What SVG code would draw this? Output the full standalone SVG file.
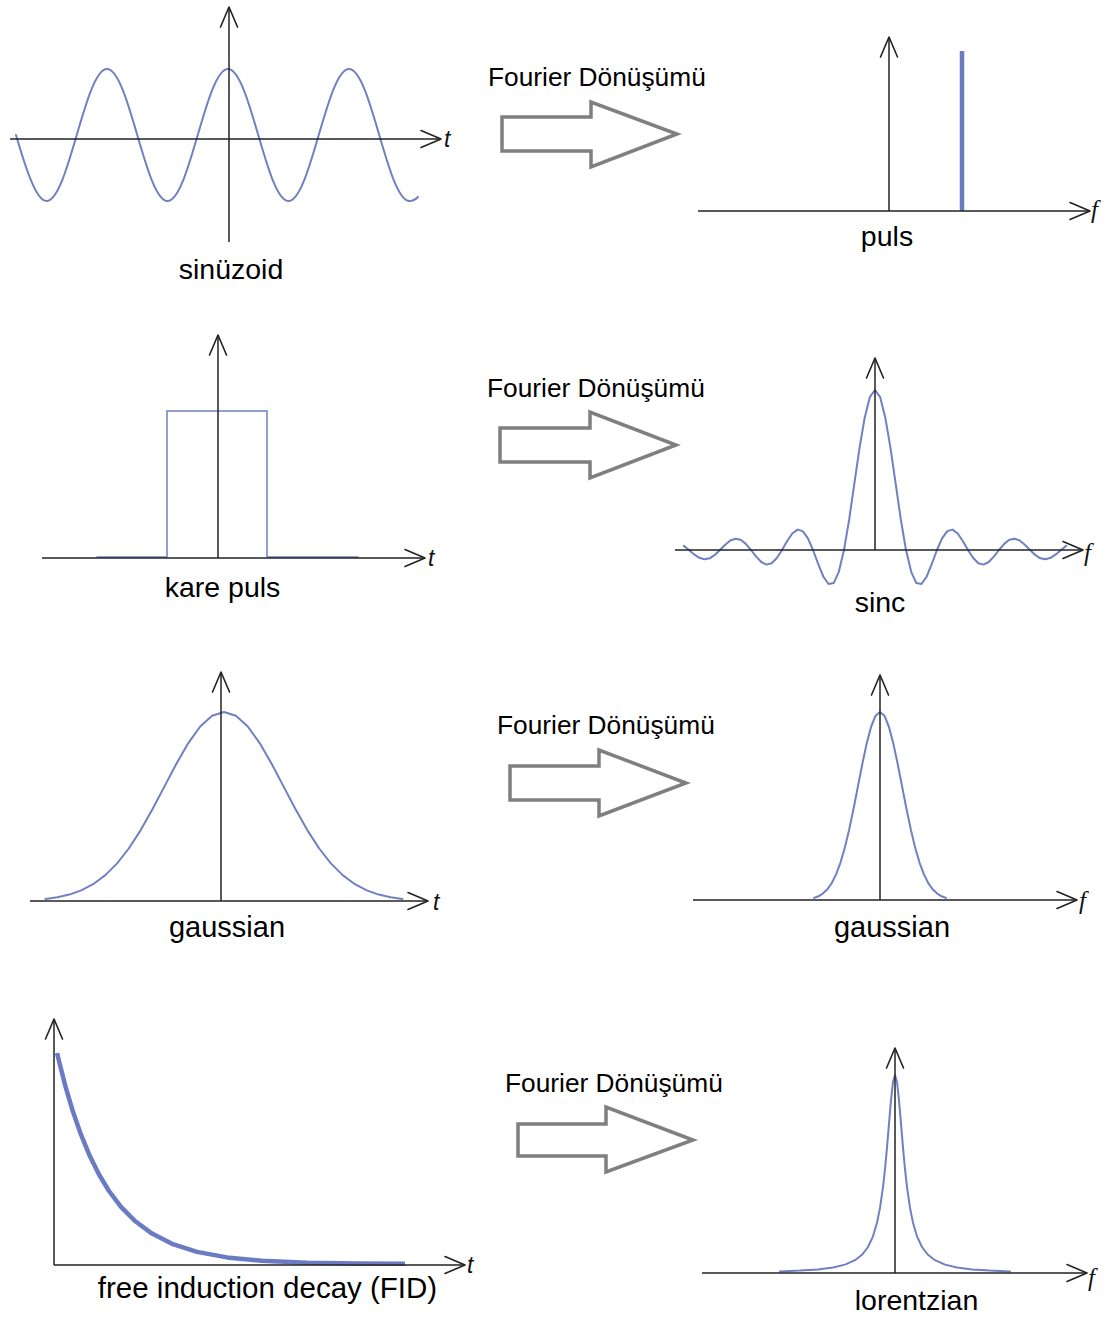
<svg xmlns="http://www.w3.org/2000/svg" width="1113" height="1317" viewBox="0 0 1113 1317">
<style>
  .ax{fill:none;stroke:#222;stroke-width:1.5;marker-end:url(#ah)}
  .cv{fill:none;stroke:#7080c0;stroke-width:2;stroke-linejoin:round;stroke-linecap:round}
  .lbl{font-family:"Liberation Sans",Arial,sans-serif;font-size:28.5px;fill:#000;text-anchor:middle}
  .ft{font-family:"Liberation Sans",Arial,sans-serif;font-size:26.3px;fill:#000}
  .t{font-family:"Liberation Sans",Arial,sans-serif;font-size:23px;font-style:italic;fill:#111}
  .f{font-family:"Liberation Serif","Times New Roman",serif;font-size:25px;font-style:italic;fill:#111}
  .blk{fill:#fff;stroke:#7f7f7f;stroke-width:3.5;stroke-linejoin:miter}
</style>
<defs>
  <marker id="ah" markerUnits="userSpaceOnUse" markerWidth="26" markerHeight="24" refX="21" refY="10" orient="auto" overflow="visible">
    <path d="M1,1.5 L21,10 L1,18.5" fill="none" stroke="#222" stroke-width="1.6" stroke-linejoin="round" stroke-linecap="round"/>
  </marker>
</defs>
<rect width="1113" height="1317" fill="#fff"/>

<g id="sinuzoid">
  <path class="cv" d="M16,135 C25.9,168.8 36.2,201 46.5,201 C68.5,201 85,69 107,69 C129,69 145.5,201 167.5,201 C189.5,201 206,69 228,69 C250,69 266.5,201 288.5,201 C310.5,201 327,69 349,69 C371,69 387.5,201 409.5,201 Q414,201 418,197"/>
  <line class="ax" x1="10" y1="139" x2="441" y2="139"/>
  <line class="ax" x1="229" y1="242" x2="229" y2="7"/>
  <text class="t" x="444" y="147">t</text>
  <text class="lbl" x="231" y="279">sinüzoid</text>
</g>

<g id="puls">
  <line x1="962" y1="51" x2="962" y2="211" stroke="#6a7cc0" stroke-width="4.5"/>
  <line class="ax" x1="698" y1="211" x2="1090" y2="211"/>
  <line class="ax" x1="889" y1="211" x2="889" y2="37"/>
  <text class="f" x="1091" y="218">f</text>
  <text class="lbl" x="887" y="246">puls</text>
</g>

<g id="kare-puls">
  <path class="cv" style="stroke-width:1.5" d="M97,557 L167,557 L167,411 L267,411 L267,557 L358,557"/>
  <line class="ax" x1="42" y1="558" x2="425" y2="558"/>
  <line class="ax" x1="218" y1="558" x2="218" y2="335"/>
  <text class="t" x="428" y="566">t</text>
  <text class="lbl" x="222.5" y="597">kare puls</text>
</g>

<g id="sinc">
  <polyline class="cv" points="683.8,545.9 689,550 694.2,554.4 699.3,557.8 704.5,559.3 709.7,558.3 714.8,554.9 720,550 725.2,544.7 730.3,540.5 735.5,538.7 740.7,539.8 745.8,543.9 751,550 756.2,556.6 761.3,562 766.5,564.6 771.7,563.2 776.8,558 782,550 787.2,541 792.3,533.5 797.5,529.6 802.7,531.1 807.8,538.2 813,550 818.2,563.9 823.3,576.5 828.5,584 833.7,583.1 838.8,571.8 844,550 849.2,519.4 854.3,483.8 859.5,448.1 864.7,417.7 869.8,397.2 875,390 880.2,397.2 885.3,417.7 890.5,448.1 895.7,483.8 900.8,519.4 906,550 911.2,571.8 916.3,583.1 921.5,584 926.7,576.5 931.8,563.9 937,550 942.2,538.2 947.3,531.1 952.5,529.6 957.7,533.5 962.8,541 968,550 973.2,558 978.3,563.2 983.5,564.6 988.7,562 993.8,556.6 999,550 1004.2,543.9 1009.3,539.8 1014.5,538.7 1019.7,540.5 1024.8,544.7 1030,550 1035.2,554.9 1040.3,558.3 1045.5,559.3 1050.7,557.8 1055.8,554.4 1061,550 1066.2,545.9"/>
  <line class="ax" x1="675" y1="550" x2="1083" y2="550"/>
  <line class="ax" x1="875" y1="550" x2="875" y2="358"/>
  <text class="f" x="1084" y="561">f</text>
  <text class="lbl" x="880" y="612">sinc</text>
</g>

<g id="gaussian-t">
  <polyline class="cv" points="45.5,898.9 57.4,897.3 69.3,894.6 81.2,890.4 93.1,884.2 105,875.4 116.9,863.6 128.8,848.5 140.7,830.1 152.6,809 164.5,786.4 176.4,763.8 188.3,743.1 200.2,726.5 212.1,715.7 224,712 235.9,715.7 247.8,726.5 259.7,743.1 271.6,763.8 283.5,786.4 295.4,809 307.3,830.1 319.2,848.5 331.1,863.6 343,875.4 354.9,884.2 366.8,890.4 378.7,894.6 390.6,897.3 402.5,898.9"/>
  <line class="ax" x1="30" y1="901" x2="428" y2="901"/>
  <line class="ax" x1="221" y1="901" x2="221" y2="672"/>
  <text class="t" x="433" y="910">t</text>
  <text class="lbl" x="227" y="937" style="font-size:29px">gaussian</text>
</g>

<g id="gaussian-f">
  <polyline class="cv" points="814,897.9 818.4,896.3 822.8,893.6 827.2,889.5 831.6,883.3 836,874.6 840.4,862.8 844.8,847.7 849.2,829.4 853.6,808.5 858,786 862.4,763.5 866.8,743 871.2,726.5 875.6,715.7 880,712 884.4,715.7 888.8,726.5 893.2,743 897.6,763.5 902,786 906.4,808.5 910.8,829.4 915.2,847.7 919.6,862.8 924,874.6 928.4,883.3 932.8,889.5 937.2,893.6 941.6,896.3 946,897.9"/>
  <line class="ax" x1="693" y1="900" x2="1077" y2="900"/>
  <line class="ax" x1="880" y1="900" x2="880" y2="675"/>
  <text class="f" x="1079" y="909">f</text>
  <text class="lbl" x="892" y="937" style="font-size:29px">gaussian</text>
</g>

<g id="fid">
  <polyline fill="none" stroke="#6a7bc4" stroke-width="4.5" stroke-linejoin="round" points="57,1053 65,1084.8 73,1111.8 81,1134.7 89,1154.2 99,1174.5 109,1191 121,1206.8 135,1221 152,1233.6 172,1243.8 197,1251.9 227,1257.4 262,1260.8 307,1262.7 357,1263.5 405,1263.8"/>
  <line class="ax" x1="54" y1="1265" x2="465" y2="1265"/>
  <line class="ax" x1="54" y1="1265" x2="54" y2="1019"/>
  <text class="t" x="467" y="1273">t</text>
  <text class="lbl" x="267.5" y="1298" style="font-size:29.5px">free induction decay (FID)</text>
</g>

<g id="lorentzian">
  <polyline class="cv" points="780,1271.4 800,1270.6 818,1269.4 833,1267.5 845,1264.6 855,1260.2 862,1254.8 868,1247 873,1236.3 877,1222.7 880,1207.9 883,1187.1 885,1169.2 887,1147.7 889,1123.7 891,1100.1 893,1081.9 895,1075 897,1081.9 899,1100.1 901,1123.7 903,1147.7 905,1169.2 907,1187.1 910,1207.9 913,1222.7 917,1236.3 922,1247 928,1254.8 935,1260.2 945,1264.6 957,1267.5 972,1269.4 990,1270.6 1010,1271.4"/>
  <line class="ax" x1="702" y1="1273" x2="1087" y2="1273"/>
  <line class="ax" x1="895" y1="1273" x2="895" y2="1048"/>
  <text class="f" x="1088" y="1286">f</text>
  <text class="lbl" x="916.5" y="1310">lorentzian</text>
</g>

<g id="connectors">
  <g id="ft1">
    <text class="ft" x="488" y="86">Fourier Dönüşümü</text>
    <polygon class="blk" points="502,117 591,117 591,102 677,134 591,167 591,151 502,151"/>
  </g>
  <g id="ft2">
    <text class="ft" x="487" y="397">Fourier Dönüşümü</text>
    <polygon class="blk" points="500,428 590,428 590,412 676,445 590,478 590,462 500,462"/>
  </g>
  <g id="ft3">
    <text class="ft" x="497" y="734">Fourier Dönüşümü</text>
    <polygon class="blk" points="510,766 599,766 599,750 686,783 599,816 599,800 510,800"/>
  </g>
  <g id="ft4">
    <text class="ft" x="505" y="1092">Fourier Dönüşümü</text>
    <polygon class="blk" points="518,1124 606,1124 606,1107 693,1140 606,1172 606,1156 518,1156"/>
  </g>
</g>
</svg>
